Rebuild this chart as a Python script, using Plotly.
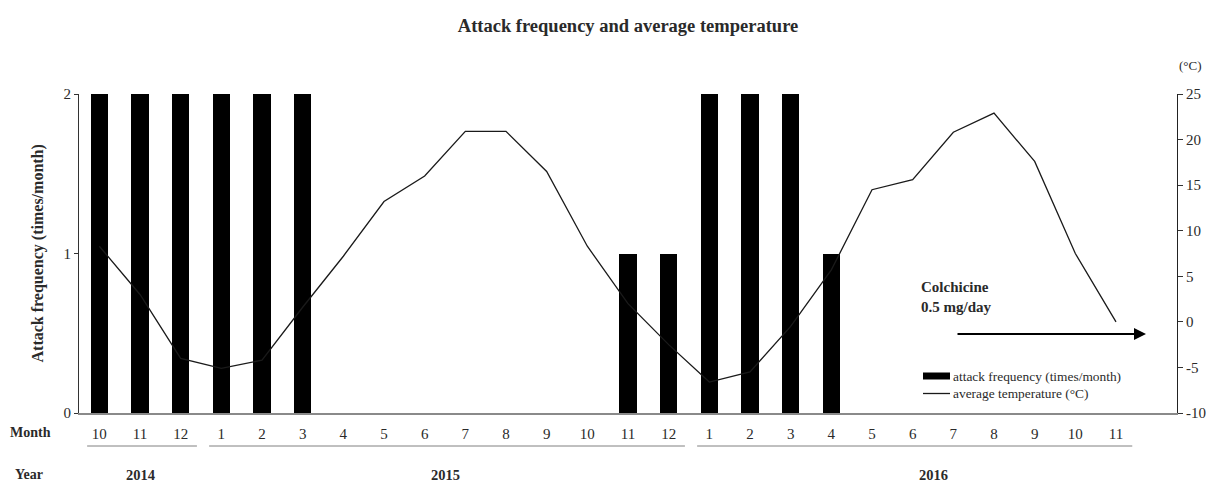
import plotly.graph_objects as go

# ---- data ----
months = ["10", "11", "12", "1", "2", "3", "4", "5", "6", "7", "8", "9", "10",
          "11", "12", "1", "2", "3", "4", "5", "6", "7", "8", "9", "10", "11"]
attack_freq = [2, 2, 2, 2, 2, 2, 0, 0, 0, 0, 0, 0, 0, 1, 1, 2, 2, 2, 1,
               0, 0, 0, 0, 0, 0, 0]
avg_temp = [8.3, 3.0, -4.0, -5.1, -4.2, 1.6, 7.2, 13.2, 16.0, 20.9, 20.9, 16.5,
            8.3, 2.0, -2.5, -6.6, -5.5, -0.5, 5.7, 14.5, 15.6, 20.8, 22.9, 17.6,
            7.5, 0.0]
temp_ticks = [-10, -5, 0, 5, 10, 15, 20, 25]
freq_ticks = [0, 1, 2]
years = ["2014", "2015", "2016"]
year_first_month = [0, 3, 15]
year_last_month = [2, 14, 25]

# ---- geometry (page body has an 8px margin, so the figure is offset) ----
OFF = 8
W, H = 1214 - OFF, 483 - OFF
PLOT_L, PLOT_R, PLOT_T, PLOT_B = 79, 1177, 94, 413      # in screenshot pixels
L, T = PLOT_L - OFF, PLOT_T - OFF
R, B = W - (PLOT_R - OFF), H - (PLOT_B - OFF)
PW, PH = PLOT_R - PLOT_L, PLOT_B - PLOT_T
n_slots = len(months) + 1


def xp(px):
    return (px - PLOT_L) / PW


def yp(py):
    return (PLOT_B - py) / PH


FONT = "Liberation Serif, Times New Roman, serif"
TXT = "#2a2a2a"

idx = list(range(len(months)))

fig = go.Figure()
fig.add_trace(go.Bar(
    x=idx, y=attack_freq, width=0.43,
    marker=dict(color="#000000", line=dict(width=0)),
    name="attack frequency (times/month)", showlegend=False,
))
fig.add_trace(go.Scatter(
    x=idx, y=avg_temp, yaxis="y2", mode="lines",
    line=dict(color="#1a1a1a", width=1.3),
    name="average temperature (°C)", showlegend=False,
))

shapes = []
annotations = []

# year underlines and labels
for yr, a, b in zip(years, year_first_month, year_last_month):
    shapes.append(dict(type="line", xref="x", yref="paper",
                       x0=a - 0.3, x1=b + 0.4, y0=yp(446), y1=yp(446),
                       line=dict(color="#808080", width=1)))
    last = b + 1 if yr == years[-1] else b
    annotations.append(dict(x=(a + last) / 2, y=yp(474.5), xref="x", yref="paper",
                            xanchor="center", yanchor="middle",
                            text="<b>%s</b>" % yr, showarrow=False,
                            font=dict(family=FONT, size=14.5, color=TXT)))


def note(px, py, text, size, **kw):
    d = dict(x=xp(px), y=yp(py), xref="paper", yref="paper", text=text,
             showarrow=False, xanchor="center", yanchor="middle",
             font=dict(family=FONT, size=size, color=TXT))
    d.update(kw)
    return d


annotations += [
    note(30, 432, "<b>Month</b>", 14),
    note(29, 474.5, "<b>Year</b>", 14),
    note(37, 253.5, "<b>Attack frequency (times/month)</b>", 16, textangle=-90),
    note(1204, 65, "(°C)", 13, xanchor="right"),
    note(919, 297, "<b>Colchicine<br>0.5 mg/day</b>", 15,
         xanchor="left", align="left"),
    note(951, 376, "attack frequency (times/month)", 13.4, xanchor="left"),
    note(951, 393.5, "average temperature (°C)", 13.4, xanchor="left"),
    # arrow
    dict(x=xp(1146), y=yp(334), ax=xp(956), ay=yp(334),
         xref="x domain", yref="y domain", axref="x domain", ayref="y domain",
         text="", showarrow=True, arrowhead=2, arrowsize=1.2, arrowwidth=2,
         arrowcolor="#000000"),
]

# legend symbols
shapes += [
    dict(type="rect", xref="paper", yref="paper", x0=xp(923), x1=xp(950),
         y0=yp(379.5), y1=yp(372.5), fillcolor="#000000", line=dict(width=0)),
    dict(type="line", xref="paper", yref="paper", x0=xp(923), x1=xp(950),
         y0=yp(393.5), y1=yp(393.5), line=dict(color="#1a1a1a", width=1.3)),
]

fig.update_layout(
    width=W, height=H,
    margin=dict(l=L, r=R, t=T, b=B, autoexpand=False),
    paper_bgcolor="white", plot_bgcolor="white",
    title=dict(text="<b>Attack frequency and average temperature</b>",
               x=0.5, xref="paper", xanchor="center",
               y=1 - (26 - OFF) / H, yanchor="middle",
               font=dict(family=FONT, size=18.5, color=TXT)),
    font=dict(family=FONT, size=15, color=TXT),
    bargap=0,
    xaxis=dict(range=[-0.5, n_slots - 0.5], tickmode="array", tickvals=idx,
               ticktext=months, showgrid=False, zeroline=False,
               showline=True, linecolor="#8a8a8a", linewidth=1.5,
               ticks="", ticklabelstandoff=6,
               tickfont=dict(family=FONT, size=15, color=TXT)),
    yaxis=dict(range=[0, 2], tickmode="array", tickvals=freq_ticks,
               ticktext=[str(v) for v in freq_ticks],
               showgrid=False, zeroline=False,
               showline=True, linecolor="#333333", linewidth=1,
               ticks="outside", ticklen=4, tickcolor="#333333",
               tickfont=dict(family=FONT, size=15, color=TXT)),
    yaxis2=dict(range=[-10, 25], tickmode="array", tickvals=temp_ticks,
                ticktext=[str(v) for v in temp_ticks],
                overlaying="y", side="right", showgrid=False, zeroline=False,
                showline=True, linecolor="#222222", linewidth=1.2,
                ticks="outside", ticklen=5, tickcolor="#333333",
                tickfont=dict(family=FONT, size=15, color=TXT)),
    shapes=shapes,
    annotations=annotations,
)

fig.write_html("out.html")
